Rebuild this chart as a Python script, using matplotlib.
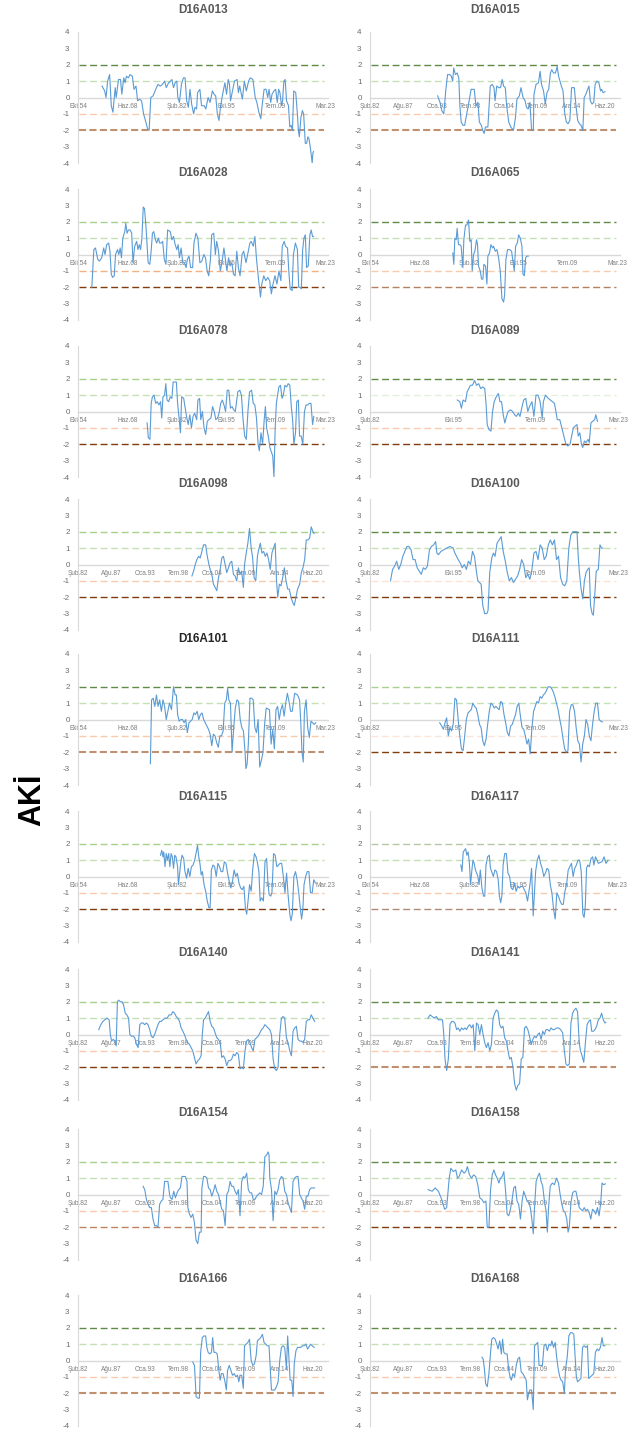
import numpy as np
import matplotlib
matplotlib.use('Agg')
import matplotlib.pyplot as plt

plt.rcParams['font.family'] = ['Liberation Sans', 'DejaVu Sans']
plt.rcParams['axes.unicode_minus'] = False

# AKİ series per station: (decimal year, value)
d16a013 = [(1961.41, 0.7), (1962.14, 0.4), (1962.51, 0.0), (1962.96, 1.0), (1963.51, 1.4), (1963.97, -0.5),
           (1964.42, -0.9), (1965.06, 0.6), (1965.33, 0.0), (1965.97, 1.1), (1966.52, 1.1), (1966.89, 0.2),
           (1967.43, 1.2), (1967.80, 0.9), (1968.16, 1.3), (1968.71, 1.2), (1969.17, 1.4), (1969.81, 1.3),
           (1970.26, 0.5), (1970.81, 0.7), (1971.26, -0.2), (1971.81, -0.1), (1972.36, -0.2), (1972.91, -1.0),
           (1973.55, -1.5), (1974.00, -1.9), (1974.46, -2.0), (1974.91, 0.0), (1975.55, 0.1), (1976.47, 0.6),
           (1976.92, 0.8), (1977.56, 0.7), (1978.11, 0.8), (1978.75, 1.0), (1979.20, 0.6), (1979.84, 0.9),
           (1980.39, 1.0), (1980.75, 1.1), (1981.21, 0.6), (1981.67, 0.9), (1982.12, 1.0), (1982.40, 0.0),
           (1982.85, -0.3), (1983.40, 0.8), (1983.95, 1.2), (1984.40, 1.2), (1984.86, -0.2), (1985.32, -0.6),
           (1985.77, 0.5), (1986.23, -0.4), (1986.78, -1.0), (1987.14, -0.6), (1987.60, -0.7), (1987.87, 0.3),
           (1988.51, 0.5), (1988.97, -0.5), (1989.70, -0.5), (1990.15, -0.7), (1990.79, 0.0), (1991.34, -0.3),
           (1991.98, 0.4), (1992.43, 0.2), (1992.89, 0.1), (1993.35, -1.0), (1993.80, -1.4), (1994.26, -0.5),
           (1994.90, 0.3), (1995.44, 0.9), (1995.90, 0.2), (1996.36, 1.1), (1996.72, 0.8), (1997.00, -0.2),
           (1997.63, 0.5), (1998.09, 1.0), (1998.82, 1.1), (1999.18, 0.3), (1999.55, 0.7), (1999.91, 0.3),
           (2000.28, -0.1), (2000.83, 1.0), (2001.37, 0.4), (2002.01, 1.0), (2002.47, 1.2), (2003.20, 1.1),
           (2003.84, 0.0), (2004.29, -0.3), (2004.84, -0.9), (2005.39, -1.3), (2005.75, -0.5), (2006.30, 0.5),
           (2006.85, 0.5), (2007.31, 0.0), (2007.67, 0.5), (2008.13, -0.3), (2008.49, 0.2), (2009.04, 0.4),
           (2009.50, 0.5), (2009.95, -0.3), (2010.32, 0.5), (2010.68, 0.3), (2011.14, -0.5), (2011.41, -0.2),
           (2011.78, 1.0), (2012.14, 1.1), (2012.51, -0.2), (2013.05, -0.5), (2013.42, -1.8), (2013.78, -1.7),
           (2014.15, -2.0), (2014.51, 0.4), (2015.06, 0.3), (2015.52, -1.0), (2015.79, -2.0), (2016.06, -2.4),
           (2016.52, -1.2), (2016.89, -0.8), (2017.25, -1.0), (2017.71, -2.8), (2018.07, -2.8), (2018.44, -2.4),
           (2018.71, -2.5), (2019.07, -3.0), (2019.35, -3.5), (2019.62, -4.0), (2019.81, -3.4), (2019.99, -3.3)]

d16a015 = [(1993.16, 0.1), (1993.55, -0.3), (1993.83, -0.8), (1994.16, -1.0), (1994.50, 0.5), (1994.78, 1.4),
           (1995.11, 1.4), (1995.39, 1.3), (1995.61, 1.0), (1995.78, 1.8), (1996.06, 1.4), (1996.34, 1.5),
           (1996.61, 1.2), (1996.78, -0.5), (1997.00, -1.5), (1997.28, -1.7), (1997.56, -1.7), (1997.90, -1.0),
           (1998.29, -0.2), (1998.62, 0.5), (1999.12, 0.5), (1999.40, -0.5), (1999.73, -0.3), (1999.96, -1.5),
           (2000.29, -1.7), (2000.51, -2.0), (2000.74, -2.2), (2000.96, -1.8), (2001.35, -1.8), (2001.74, 0.7),
           (2002.07, 0.8), (2002.35, 0.6), (2002.52, -0.2), (2002.80, 0.7), (2003.13, 0.6), (2003.41, 0.6),
           (2003.69, 1.1), (2003.91, 0.7), (2004.19, 0.6), (2004.41, -0.5), (2004.75, -1.5), (2005.08, -1.8),
           (2005.53, -2.0), (2005.86, -1.2), (2006.09, -0.1), (2006.48, 0.1), (2006.75, 0.6), (2007.09, 0.0),
           (2007.42, -0.2), (2007.65, -0.6), (2007.92, -0.7), (2008.20, -0.3), (2008.48, -2.0), (2008.76, -2.0),
           (2008.87, 0.2), (2009.20, 0.8), (2009.60, 0.9), (2009.87, 1.6), (2010.10, 0.8), (2010.43, 0.4),
           (2010.71, -0.4), (2010.99, 0.3), (2011.27, 0.5), (2011.55, 1.5), (2011.77, 1.7), (2012.05, 1.5),
           (2012.38, 1.5), (2012.66, 1.9), (2012.88, 1.3), (2013.11, 1.0), (2013.33, 0.7), (2013.61, 0.4),
           (2013.89, -1.0), (2014.16, -1.5), (2014.44, -1.6), (2014.72, -1.4), (2015.00, 0.6), (2015.45, 0.6),
           (2015.72, -0.5), (2016.00, -1.4), (2016.28, -1.6), (2016.56, -1.7), (2016.84, -2.0), (2017.06, 0.0),
           (2017.34, 0.2), (2017.62, 0.5), (2017.84, 0.7), (2018.06, -0.2), (2018.34, -0.4), (2018.62, -0.3),
           (2018.84, 0.8), (2019.12, 1.0), (2019.46, 0.9), (2019.73, 0.4), (2019.90, 0.5), (2020.12, 0.3),
           (2020.46, 0.35)]

d16a028 = [(1958.58, -2.0), (1959.13, 0.3), (1959.59, 0.4), (1960.22, -0.3), (1960.68, -0.4), (1961.32, -0.2),
           (1961.87, 0.4), (1962.23, 0.0), (1962.69, 0.6), (1963.24, 0.7), (1963.60, 0.2), (1963.97, -1.2),
           (1964.33, -1.4), (1964.79, -1.3), (1965.15, 0.0), (1965.70, 0.3), (1966.06, 0.0), (1966.43, 0.4),
           (1966.79, -0.2), (1967.16, 1.0), (1967.71, 1.4), (1967.98, 1.9), (1968.34, 1.3), (1968.71, 1.5),
           (1969.17, 1.5), (1969.62, 1.3), (1969.99, -0.5), (1970.44, 0.5), (1970.99, 0.8), (1971.36, 0.3),
           (1971.72, 0.6), (1972.09, 0.3), (1972.45, 1.0), (1972.82, 2.9), (1973.18, 2.8), (1973.64, 1.5),
           (1973.91, 0.5), (1974.18, -0.5), (1974.64, -0.6), (1975.01, 0.2), (1975.37, 1.3), (1975.74, 1.4),
           (1976.19, 0.9), (1976.56, 0.7), (1977.01, 1.0), (1977.38, 0.7), (1977.83, 0.7), (1978.20, 0.8),
           (1978.66, -0.3), (1979.11, -0.6), (1979.57, 1.5), (1980.30, 1.4), (1980.75, 0.9), (1981.21, 1.1),
           (1981.67, 0.6), (1982.12, 0.3), (1982.49, 0.6), (1982.85, -0.2), (1983.31, 0.4), (1983.77, -0.5),
           (1984.22, -0.5), (1984.68, -0.8), (1985.04, -0.3), (1985.50, -0.1), (1985.95, -0.8), (1986.50, -0.8),
           (1986.87, 0.7), (1987.42, 1.3), (1987.96, 1.0), (1988.51, -0.5), (1989.06, -0.4), (1989.60, 0.0),
           (1990.06, -0.2), (1990.52, -1.0), (1990.97, -1.3), (1991.43, -0.3), (1991.79, 1.2), (1992.34, 1.3),
           (1992.80, 0.0), (1993.16, 0.8), (1993.62, 0.3), (1994.17, -1.0), (1994.62, -0.5), (1995.17, 0.4),
           (1995.53, -0.2), (1995.99, -1.0), (1996.45, -0.2), (1996.90, -0.7), (1997.36, -0.5), (1997.82, -1.2),
           (1998.27, -1.3), (1998.73, 0.2), (1999.18, -0.8), (1999.64, -1.3), (2000.19, 0.0), (2000.64, 0.2),
           (2001.28, -0.5), (2001.74, 0.0), (2002.37, 0.7), (2002.74, 0.8), (2003.29, 0.5), (2003.75, 1.1),
           (2004.20, -0.3), (2004.75, -1.5), (2005.30, -2.6), (2005.66, -1.8), (2006.21, -1.3), (2006.76, -1.6),
           (2007.30, -1.4), (2007.85, -1.6), (2008.31, -2.4), (2008.77, -1.8), (2009.31, -1.3), (2009.86, -1.8),
           (2010.41, -1.0), (2010.95, -1.6), (2011.32, 0.5), (2011.87, 0.8), (2012.23, 0.5), (2012.78, 0.4),
           (2013.14, -1.0), (2013.51, -2.1), (2014.06, -2.2), (2014.42, 0.0), (2014.97, 0.7), (2015.52, 0.3),
           (2015.88, -2.0), (2016.25, -2.0), (2016.61, -2.1), (2016.98, 0.3), (2017.34, 1.0), (2017.71, 1.2),
           (2018.07, -0.8), (2018.53, -0.7), (2018.98, 1.2), (2019.35, 1.5), (2019.71, 1.1), (2019.99, 1.1)]

d16a065 = [(1977.69, 0.1), (1977.97, -0.6), (1978.25, 1.0), (1978.62, 0.9), (1978.89, 1.6), (1979.26, 0.6),
           (1979.63, 0.6), (1980.00, 0.5), (1980.47, -0.8), (1980.74, 0.9), (1981.21, 1.8), (1981.58, 1.8),
           (1982.04, 2.1), (1982.41, 0.8), (1982.78, 0.9), (1983.06, -1.0), (1983.43, 0.0), (1983.80, 0.2),
           (1984.26, 0.9), (1984.54, 0.6), (1984.81, -0.7), (1985.28, -1.0), (1985.65, -1.5), (1986.02, -1.5),
           (1986.29, -0.6), (1986.76, -0.7), (1987.13, -1.8), (1987.40, -0.1), (1987.87, 0.1), (1988.24, 0.6),
           (1988.70, 0.4), (1988.98, 0.5), (1989.44, 0.2), (1989.90, 0.3), (1990.37, -0.2), (1990.83, -1.0),
           (1991.29, -2.7), (1991.75, -2.9), (1992.03, -2.5), (1992.40, -0.3), (1992.86, 0.3), (1993.42, 0.3),
           (1993.97, 0.2), (1994.34, -0.4), (1994.71, -1.0), (1995.08, 0.5), (1995.55, 0.7), (1995.92, 1.2),
           (1996.38, 1.0), (1996.84, 0.5), (1997.12, -1.2), (1997.49, -1.3), (1997.86, -0.2), (1998.23, -0.1),
           (1998.60, -0.1)]

d16a078 = [(1973.89, -0.7), (1974.23, -1.6), (1974.68, -1.7), (1975.02, 0.5), (1975.36, 0.9), (1975.81, 1.0),
           (1976.26, 0.5), (1976.71, 0.6), (1977.16, 0.4), (1977.61, 0.6), (1977.95, -0.4), (1978.29, 0.9),
           (1978.74, 1.0), (1979.07, 1.7), (1979.41, 0.7), (1979.86, 0.6), (1980.31, 0.9), (1980.76, 0.8),
           (1981.10, 1.8), (1981.55, 1.8), (1982.00, 1.8), (1982.34, 0.5), (1982.79, -0.5), (1983.13, -1.3),
           (1983.47, 0.9), (1984.03, 0.8), (1984.37, 0.3), (1984.82, -0.3), (1985.27, -0.8), (1985.72, -0.2),
           (1986.17, -1.0), (1986.62, -0.3), (1987.07, -0.1), (1987.63, -0.5), (1987.97, 0.7), (1988.42, 0.8),
           (1988.76, -0.5), (1989.21, 0.0), (1989.66, -1.0), (1990.11, -1.4), (1990.56, -0.6), (1991.01, -0.5),
           (1991.57, -0.4), (1992.02, 0.3), (1992.47, 0.0), (1992.93, -0.5), (1993.38, -0.4), (1993.83, -0.1),
           (1994.28, 0.5), (1994.73, 0.7), (1995.18, 0.4), (1995.63, 0.0), (1996.08, 1.3), (1996.53, 1.3),
           (1996.98, 0.2), (1997.43, 0.3), (1997.88, 0.1), (1998.33, 0.0), (1999.01, 1.2), (1999.57, 1.3),
           (2000.02, 1.0), (2000.47, -0.5), (2000.92, -1.5), (2001.37, -1.7), (2001.82, 0.0), (2002.27, 1.2),
           (2002.84, 1.3), (2003.29, 0.5), (2003.74, 0.4), (2004.19, -0.4), (2004.64, -2.0), (2004.97, -2.4),
           (2005.43, -1.3), (2005.88, -2.0), (2006.33, -0.5), (2006.66, 0.3), (2007.00, -1.0), (2007.45, -1.5),
           (2007.90, -2.2), (2008.35, -2.5), (2008.69, -2.7), (2009.03, -4.0), (2009.37, -1.0), (2009.70, 0.5),
           (2010.04, 1.0), (2010.38, 1.5), (2010.83, 1.6), (2011.28, 0.8), (2011.62, 1.0), (2012.07, 1.6),
           (2012.52, 1.5), (2012.97, 1.7), (2013.42, 1.6), (2013.87, 0.2), (2014.21, -0.5), (2014.55, -2.0),
           (2015.00, -1.3), (2015.34, 0.6), (2015.79, 0.7), (2016.12, -1.5), (2016.57, -1.5), (2017.03, -2.0),
           (2017.48, 0.0), (2017.93, 0.4), (2018.38, 0.4), (2018.83, 0.5), (2019.28, 0.5), (2019.73, -0.8),
           (2020.07, -0.3)]

d16a089 = [(1996.54, 0.7), (1996.95, 0.6), (1997.22, 0.2), (1997.49, 0.7), (1997.89, 0.6), (1998.16, 1.2),
           (1998.44, 1.4), (1998.71, 1.6), (1999.04, 1.6), (1999.38, 1.9), (1999.72, 1.6), (2000.06, 1.7),
           (2000.40, 1.4), (2000.74, 1.5), (2001.07, 1.4), (2001.28, 0.5), (2001.48, -0.8), (2001.75, -1.1),
           (2002.09, -1.2), (2002.36, 0.0), (2002.63, 0.6), (2002.97, 0.9), (2003.31, 1.1), (2003.58, 0.6),
           (2003.85, 0.6), (2004.12, -0.2), (2004.39, -0.7), (2004.66, -0.3), (2004.93, 0.0), (2005.34, 0.1),
           (2005.67, 0.0), (2006.01, -0.2), (2006.28, -0.3), (2006.62, -0.1), (2006.89, -0.3), (2007.23, 0.3),
           (2007.50, 0.7), (2007.84, 0.8), (2008.18, 0.0), (2008.45, 0.3), (2008.86, 0.6), (2009.19, -0.3),
           (2009.53, 1.0), (2009.87, 1.0), (2010.21, 0.6), (2010.55, -0.4), (2010.75, 0.6), (2011.09, 1.0),
           (2011.56, 0.8), (2011.90, 0.7), (2012.24, 0.6), (2012.58, 0.5), (2013.05, -0.5), (2013.46, -0.5),
           (2013.80, -1.0), (2014.13, -1.5), (2014.47, -2.0), (2014.81, -2.1), (2015.15, -2.0), (2015.42, -1.5),
           (2015.69, -1.0), (2015.96, -0.9), (2016.30, -0.8), (2016.50, -1.5), (2016.77, -1.3), (2017.04, -2.0),
           (2017.25, -2.2), (2017.52, -1.8), (2017.79, -1.9), (2018.13, -1.7), (2018.33, -1.9), (2018.60, -0.7),
           (2018.87, -0.6), (2019.21, -0.5), (2019.41, -0.2), (2019.68, -0.6)]

d16a098 = [(2000.71, -0.7), (2000.98, -0.4), (2001.25, 0.0), (2001.52, 0.3), (2001.79, 0.5), (2002.06, 0.4),
           (2002.33, 0.8), (2002.60, 1.2), (2002.94, 1.2), (2003.21, 0.5), (2003.48, 0.0), (2003.68, -0.3),
           (2003.95, -0.6), (2004.22, -1.2), (2004.49, -1.4), (2004.76, -1.6), (2005.04, -0.8), (2005.31, -0.3),
           (2005.58, 0.4), (2005.85, 0.5), (2006.12, 0.0), (2006.39, -0.5), (2006.66, -0.2), (2006.93, 0.1),
           (2007.20, 0.2), (2007.47, -0.6), (2007.74, -0.7), (2008.01, -1.0), (2008.28, -0.2), (2008.55, -0.6),
           (2008.82, -0.4), (2009.09, -1.4), (2009.29, 0.0), (2009.56, 0.7), (2009.83, 1.3), (2010.10, 2.2),
           (2010.37, 1.0), (2010.58, 0.5), (2010.85, -0.8), (2011.12, -1.0), (2011.39, 0.5), (2011.59, 0.9),
           (2011.86, 1.3), (2012.13, 0.7), (2012.40, 0.8), (2012.67, 0.5), (2012.94, 0.7), (2013.21, 0.3),
           (2013.48, -0.3), (2013.75, 0.7), (2014.02, 1.0), (2014.29, 1.3), (2014.49, -0.9), (2014.70, -2.0),
           (2014.97, -1.2), (2015.24, -1.3), (2015.51, -0.8), (2015.78, -0.2), (2016.05, -1.0), (2016.32, -1.5),
           (2016.59, -1.5), (2016.86, -2.0), (2017.13, -2.3), (2017.40, -2.5), (2017.67, -2.0), (2017.94, -1.5),
           (2018.28, -1.2), (2018.55, -0.5), (2018.82, -0.2), (2019.09, 0.3), (2019.36, 1.5), (2019.63, 1.5),
           (2019.90, 1.6), (2020.17, 2.3), (2020.44, 2.0), (2020.64, 1.9)]

d16a100 = [(1985.51, -1.0), (1985.85, -0.3), (1986.19, -0.1), (1986.53, 0.2), (1986.87, -0.3), (1987.20, 0.0),
           (1987.54, 0.5), (1987.88, 0.8), (1988.22, 1.1), (1988.56, 1.1), (1988.90, 0.9), (1989.23, 0.3),
           (1989.57, 0.3), (1989.91, -0.2), (1990.25, -0.4), (1990.59, -0.6), (1990.93, -0.2), (1991.26, -0.3),
           (1991.60, -0.1), (1991.94, 0.9), (1992.28, 1.1), (1992.62, 1.2), (1992.96, 1.4), (1993.16, 0.7),
           (1993.43, 0.6), (1993.84, 0.8), (1994.31, 0.9), (1994.78, 1.0), (1995.32, 1.1), (1995.86, 1.0),
           (1996.14, 0.7), (1996.41, 0.5), (1996.68, 0.3), (1997.02, 0.1), (1997.35, -0.2), (1997.69, 0.0),
           (1998.03, -0.3), (1998.37, 0.2), (1998.71, 0.0), (1999.05, 0.8), (1999.38, 0.5), (1999.72, -0.5),
           (1999.93, -1.0), (2000.20, -1.1), (2000.47, -1.2), (2000.74, -2.5), (2001.07, -3.0), (2001.41, -3.0),
           (2001.62, -2.8), (2001.89, -0.5), (2002.23, 0.4), (2002.50, 0.7), (2002.77, 0.5), (2003.10, 1.3),
           (2003.44, 1.5), (2003.78, 1.7), (2004.12, 0.8), (2004.46, 0.2), (2004.80, -0.5), (2005.13, -1.0),
           (2005.47, -0.8), (2005.81, -1.1), (2006.15, -0.9), (2006.49, -0.7), (2006.83, -0.3), (2007.16, 0.3),
           (2007.50, 0.0), (2007.84, -0.8), (2008.18, -0.6), (2008.52, -0.9), (2008.86, -0.3), (2009.19, 0.7),
           (2009.53, 0.8), (2009.87, 0.3), (2010.21, 1.2), (2010.55, 1.0), (2010.89, 0.3), (2011.22, 0.5),
           (2011.56, 1.2), (2011.90, 1.5), (2012.24, 1.2), (2012.58, 1.5), (2012.92, 0.3), (2013.25, 0.5),
           (2013.59, -0.8), (2013.93, -1.2), (2014.27, -1.3), (2014.61, -1.0), (2014.95, 1.0), (2015.28, 1.8),
           (2015.62, 2.0), (2015.96, 2.0), (2016.30, 2.0), (2016.50, 0.5), (2016.70, -0.5), (2016.98, -1.5),
           (2017.25, -2.1), (2017.52, -1.0), (2017.79, -0.5), (2018.06, -0.3), (2018.33, -0.2), (2018.53, -2.5),
           (2018.80, -3.0), (2019.00, -3.1), (2019.21, -2.0), (2019.48, -0.4), (2019.82, -0.3), (2020.09, 1.2),
           (2020.36, 1.0), (2020.56, 1.0)]

d16a101 = [(1974.80, -2.7), (1975.13, 1.2), (1975.58, 1.3), (1976.03, 0.8), (1976.48, 1.5), (1976.93, 0.8),
           (1977.38, 1.2), (1977.84, 0.5), (1978.29, 1.2), (1978.74, 0.8), (1979.19, 0.0), (1979.64, 0.5),
           (1980.09, 1.0), (1980.65, 0.6), (1981.21, 2.0), (1981.66, 1.5), (1982.00, 1.5), (1982.34, 0.3),
           (1982.79, -0.1), (1983.24, 0.0), (1983.69, 0.0), (1984.14, -0.2), (1984.59, 0.0), (1985.04, -0.8),
           (1985.49, -0.2), (1985.94, -0.1), (1986.39, 0.0), (1986.84, 0.4), (1987.29, 0.3), (1987.75, 0.5),
           (1988.20, 0.0), (1988.65, 0.3), (1989.10, 0.4), (1989.55, 0.0), (1990.00, -0.2), (1990.45, -0.4),
           (1990.90, -0.6), (1991.35, -0.9), (1991.80, -1.6), (1992.25, -0.9), (1992.70, -1.0), (1993.15, -1.4),
           (1993.60, -1.7), (1994.05, -1.0), (1994.50, -1.0), (1994.95, -0.7), (1995.40, 1.0), (1995.85, 1.2),
           (1996.19, 1.9), (1996.53, 1.2), (1996.98, 1.0), (1997.43, -2.0), (1997.88, -0.5), (1998.33, 0.7),
           (1998.78, 1.2), (1999.23, 1.1), (1999.68, 0.0), (2000.13, -0.5), (2000.58, -0.7), (2001.03, -2.0),
           (2001.26, -3.0), (2001.60, -2.7), (2001.93, -1.5), (2002.39, 1.3), (2002.84, 1.3), (2003.29, 1.2),
           (2003.74, -0.5), (2004.19, -0.8), (2004.64, 0.0), (2005.09, -2.9), (2005.54, -2.5), (2005.99, -2.0),
           (2006.44, -0.3), (2006.89, 0.7), (2007.79, 0.6), (2008.24, -1.5), (2008.69, -0.6), (2009.14, -1.8),
           (2009.59, 0.6), (2010.04, 0.8), (2010.49, 0.0), (2010.94, 0.6), (2011.39, 0.9), (2011.84, 0.2),
           (2012.29, 1.0), (2012.75, 1.6), (2013.20, 1.1), (2013.65, 0.5), (2014.10, 0.5), (2014.77, 1.6),
           (2015.56, 1.5), (2016.12, 1.2), (2016.46, -0.2), (2016.80, -2.0), (2017.14, -2.6), (2017.47, 0.5),
           (2017.93, 1.2), (2018.38, -0.5), (2018.83, -1.1), (2019.28, -0.1), (2019.73, -0.2), (2020.18, -0.3),
           (2020.63, -0.2)]

d16a111 = [(1993.63, -0.2), (1993.97, -0.4), (1994.24, -0.6), (1994.51, -0.2), (1994.78, 0.1), (1995.05, -1.0),
           (1995.32, -0.5), (1995.59, -0.7), (1995.86, -0.3), (1996.14, 1.3), (1996.41, 1.2), (1996.68, 0.0),
           (1996.95, -1.0), (1997.22, -1.8), (1997.49, -1.9), (1997.76, -1.0), (1998.03, 0.0), (1998.30, 0.4),
           (1998.57, 0.5), (1998.84, 0.6), (1999.11, 1.0), (1999.38, 0.8), (1999.65, 0.7), (1999.92, 0.3),
           (2000.20, -0.3), (2000.47, -0.5), (2000.74, -1.3), (2001.01, -1.6), (2001.28, -1.2), (2001.55, -0.3),
           (2001.82, 0.5), (2002.09, 1.0), (2002.36, 0.9), (2002.63, 0.7), (2002.90, 0.8), (2003.17, 0.7),
           (2003.44, 0.6), (2003.71, 1.1), (2003.98, 1.0), (2004.25, 0.3), (2004.52, -0.2), (2004.80, -0.8),
           (2005.07, -1.0), (2005.34, -0.4), (2005.61, -0.3), (2005.88, 0.0), (2006.15, 0.3), (2006.42, 0.8),
           (2006.69, 1.0), (2006.96, 0.2), (2007.23, -0.5), (2007.50, -0.6), (2007.77, -1.0), (2008.04, -1.5),
           (2008.31, -1.2), (2008.58, -2.1), (2008.86, -0.5), (2009.13, 0.5), (2009.40, 0.8), (2009.67, 1.1),
           (2009.94, 1.0), (2010.21, 1.4), (2010.48, 1.3), (2010.75, 1.5), (2011.02, 1.6), (2011.29, 1.8),
           (2011.56, 2.0), (2011.83, 2.0), (2012.10, 1.9), (2012.37, 1.7), (2012.64, 1.4), (2012.91, 1.0),
           (2013.18, 0.6), (2013.46, 0.0), (2013.73, -0.5), (2014.00, -1.2), (2014.27, -1.8), (2014.54, -2.0),
           (2014.81, -1.9), (2015.08, 0.5), (2015.35, 0.9), (2015.62, 0.9), (2015.89, 0.5), (2016.16, -0.5),
           (2016.43, -1.3), (2016.70, -1.5), (2016.97, -2.6), (2017.24, -1.5), (2017.52, -1.0), (2017.79, 0.0),
           (2018.06, -0.3), (2018.33, -1.0), (2018.60, -1.3), (2018.87, -0.3), (2019.14, 0.5), (2019.41, 1.0),
           (2019.68, 1.0), (2019.95, 0.0), (2020.22, -0.1), (2020.49, -0.15)]

d16a115 = [(1977.61, 1.3), (1977.95, 1.6), (1978.29, 1.2), (1978.51, 1.5), (1978.85, 0.6), (1979.19, 1.4),
           (1979.52, 1.0), (1979.86, 1.4), (1980.20, 0.6), (1980.54, 1.4), (1980.88, 1.2), (1981.21, 0.5),
           (1981.55, 1.3), (1981.89, 1.2), (1982.34, 0.6), (1982.56, -0.5), (1982.90, 0.2), (1983.24, 0.9),
           (1983.58, 1.3), (1984.03, 1.1), (1984.37, 0.3), (1984.82, -0.1), (1985.27, 0.5), (1985.72, 0.0),
           (1986.17, 0.6), (1986.62, 0.7), (1987.07, 1.0), (1987.52, 1.5), (1987.86, 1.9), (1988.20, 1.2),
           (1988.53, 0.8), (1988.87, 0.1), (1989.21, 0.3), (1989.66, -0.5), (1990.11, -0.9), (1990.56, -1.5),
           (1991.01, -1.9), (1991.35, -1.9), (1991.69, 0.4), (1992.14, 0.7), (1992.59, 0.6), (1993.04, 0.0),
           (1993.49, 0.8), (1993.94, 0.6), (1994.39, 0.3), (1994.84, 0.3), (1995.29, 0.9), (1995.74, 0.8),
           (1996.19, 0.2), (1996.64, -0.3), (1997.09, -0.7), (1997.54, -0.3), (1997.99, 0.4), (1998.44, 0.0),
           (1998.89, 0.2), (1999.34, -0.4), (1999.79, -0.7), (2000.25, -0.8), (2000.70, -0.6), (2001.15, -2.0),
           (2001.48, -2.3), (2001.94, -1.3), (2002.27, -0.5), (2002.72, -0.9), (2003.17, 0.5), (2003.62, 1.4),
           (2004.07, 1.2), (2004.41, 0.9), (2004.86, 0.3), (2005.20, -1.5), (2005.65, -1.3), (2006.10, -1.5),
           (2006.55, 0.9), (2007.00, 1.1), (2007.34, -0.3), (2007.68, -1.1), (2008.13, -1.2), (2008.47, -1.0),
           (2008.92, 1.4), (2009.37, 1.3), (2009.82, 0.6), (2010.27, 0.7), (2010.72, 0.8), (2011.17, 0.8),
           (2011.62, 0.0), (2012.07, -1.0), (2012.52, 0.2), (2012.97, -1.2), (2013.42, -2.3), (2013.76, -2.7),
           (2014.10, -2.3), (2014.55, 0.0), (2015.00, 0.3), (2015.45, -0.2), (2015.90, -1.0), (2016.35, -2.0),
           (2016.69, -2.6), (2017.03, -2.0), (2017.36, -0.5), (2017.81, 0.0), (2018.26, 0.3), (2018.71, 0.3),
           (2019.16, -1.0), (2019.61, -1.0), (2020.07, -0.2), (2020.52, -0.4)]

d16a117 = [(1979.89, 0.7), (1980.23, 0.3), (1980.57, 1.5), (1980.90, 1.6), (1981.24, 1.7), (1981.58, 1.3),
           (1981.92, 1.5), (1982.26, 0.9), (1982.60, -0.5), (1982.93, 0.3), (1983.27, 1.0), (1983.61, 0.8),
           (1983.95, 0.4), (1984.29, 0.2), (1984.63, 0.0), (1984.96, -0.5), (1985.30, 0.4), (1985.75, -0.7),
           (1986.20, -1.2), (1986.54, -1.2), (1986.88, 0.7), (1987.33, 1.2), (1987.78, 1.3), (1988.12, 0.5),
           (1988.46, 0.3), (1988.91, 0.0), (1989.36, 0.4), (1989.81, 0.3), (1990.26, -0.2), (1990.60, -1.2),
           (1990.94, -1.6), (1991.28, -1.2), (1991.62, 0.7), (1992.07, 1.4), (1992.52, 1.4), (1992.97, 0.2),
           (1993.42, 0.0), (1993.87, -0.7), (1994.32, -0.8), (1994.77, -0.4), (1995.22, -0.9), (1995.67, -0.6),
           (1996.13, -0.7), (1996.58, -0.6), (1997.03, -0.6), (1997.48, -0.8), (1997.93, -1.0), (1998.38, -1.5),
           (1998.72, -1.0), (1999.06, -0.5), (1999.51, 0.5), (1999.96, -2.4), (2000.30, -1.0), (2000.63, 0.3),
           (2001.09, 1.0), (2001.54, 1.3), (2001.99, 0.8), (2002.44, 0.5), (2002.89, 0.0), (2003.34, 0.2),
           (2003.79, 0.5), (2004.24, 0.4), (2004.69, -0.5), (2005.14, -1.0), (2005.60, -2.0), (2006.05, -2.6),
           (2006.50, -1.0), (2006.95, -1.2), (2007.40, -1.5), (2007.85, -1.7), (2008.30, -1.7), (2008.75, -0.9),
           (2009.20, -0.5), (2009.65, 0.4), (2010.10, 0.6), (2010.56, 0.8), (2011.01, 0.0), (2011.46, 0.5),
           (2011.91, 0.7), (2012.36, 1.0), (2012.81, 1.0), (2013.26, 0.3), (2013.71, -2.3), (2014.05, -2.5),
           (2014.39, -1.8), (2014.73, 0.5), (2015.07, 0.7), (2015.52, 0.6), (2015.97, 1.1), (2016.42, 1.2),
           (2016.76, 0.7), (2017.21, 1.2), (2017.66, 1.0), (2018.00, 0.8), (2018.45, 0.85), (2019.01, 0.9),
           (2019.57, 1.2), (2020.13, 0.8), (2020.70, 1.0)]

d16a140 = [(1985.51, 0.3), (1985.85, 0.6), (1986.18, 0.8), (1986.52, 0.9), (1986.86, 1.0), (1987.20, 0.9),
           (1987.40, 0.0), (1987.60, -0.4), (1987.87, -0.3), (1988.14, -0.4), (1988.35, -0.7), (1988.55, 2.0),
           (1988.75, 2.1), (1989.02, 2.0), (1989.29, 2.0), (1989.56, 1.8), (1989.83, 1.3), (1990.10, 1.2),
           (1990.37, 1.0), (1990.58, 0.0), (1990.85, -0.1), (1991.12, -0.1), (1991.39, -0.2), (1991.66, -0.6),
           (1991.93, -0.8), (1992.20, 0.6), (1992.47, 0.7), (1992.74, 0.7), (1993.01, 0.6), (1993.28, 0.7),
           (1993.55, 0.6), (1993.82, 0.3), (1994.09, -0.1), (1994.36, -0.2), (1994.63, 0.0), (1994.90, 0.3),
           (1995.17, 0.6), (1995.44, 0.8), (1995.71, 0.8), (1995.98, 0.9), (1996.32, 1.0), (1996.66, 1.0),
           (1997.00, 1.2), (1997.33, 1.2), (1997.60, 1.4), (1997.87, 1.3), (1998.14, 1.1), (1998.41, 1.0),
           (1998.68, 0.8), (1998.95, 0.4), (1999.22, 0.2), (1999.49, 0.0), (1999.76, -0.3), (2000.03, -0.5),
           (2000.30, -0.6), (2000.57, -0.8), (2000.84, -1.0), (2001.11, -1.4), (2001.38, -1.8), (2001.66, -1.6),
           (2001.93, -1.5), (2002.20, -1.3), (2002.40, 0.0), (2002.60, 0.9), (2002.87, 1.0), (2003.14, 1.2),
           (2003.41, 1.4), (2003.68, 0.8), (2003.95, 0.5), (2004.22, 0.4), (2004.49, 0.1), (2004.76, -0.2),
           (2005.04, -0.3), (2005.31, -0.5), (2005.58, -1.4), (2005.85, -1.3), (2006.12, -1.5), (2006.39, -1.9),
           (2006.66, -1.6), (2006.93, -1.6), (2007.20, -1.5), (2007.47, -1.2), (2007.74, -1.3), (2008.01, -1.1),
           (2008.28, -1.2), (2008.55, -2.1), (2008.82, -2.0), (2009.09, -2.1), (2009.36, -1.0), (2009.63, -0.4),
           (2009.90, -0.3), (2010.17, -0.5), (2010.44, -0.8), (2010.71, -1.0), (2010.98, -0.3), (2011.25, -0.2),
           (2011.52, -0.1), (2011.79, 0.1), (2012.06, 0.3), (2012.33, 0.4), (2012.60, 0.6), (2012.87, 0.5),
           (2013.14, 0.4), (2013.41, 0.3), (2013.68, 0.0), (2013.95, -1.5), (2014.22, -2.1), (2014.49, -2.2),
           (2014.76, -2.0), (2015.03, 0.0), (2015.30, 1.0), (2015.57, 1.1), (2015.84, 1.0), (2016.12, -0.2),
           (2016.39, -0.5), (2016.66, -1.0), (2016.93, -1.3), (2017.20, 0.2), (2017.47, 0.4), (2017.74, 0.5),
           (2018.01, -0.3), (2018.28, -0.4), (2018.55, -0.4), (2018.82, -0.5), (2019.09, -0.3), (2019.36, 0.8),
           (2019.63, 0.9), (2019.90, 0.9), (2020.17, 1.2), (2020.44, 1.0), (2020.71, 0.8)]

d16a141 = [(1991.59, 1.0), (1991.93, 1.2), (1992.26, 1.1), (1992.60, 1.0), (1992.94, 1.1), (1993.28, 0.9),
           (1993.62, 0.9), (1993.95, 0.9), (1994.16, 0.0), (1994.36, -1.5), (1994.63, -2.2), (1994.90, -1.5),
           (1995.17, 0.6), (1995.44, 0.8), (1995.71, 0.8), (1995.98, 0.7), (1996.25, 0.3), (1996.52, 0.4),
           (1996.79, 0.2), (1997.06, 0.4), (1997.33, 0.3), (1997.60, 0.4), (1997.87, 0.3), (1998.14, 0.5),
           (1998.41, 0.6), (1998.68, 0.4), (1998.95, 0.6), (1999.22, -1.0), (1999.49, 0.7), (1999.76, 0.6),
           (2000.03, 0.0), (2000.30, 0.6), (2000.57, 0.0), (2000.84, -0.5), (2001.11, -0.8), (2001.38, -0.5),
           (2001.66, -1.0), (2001.93, -0.6), (2002.20, 1.0), (2002.47, 1.3), (2002.74, 1.5), (2003.01, 1.4),
           (2003.28, 0.6), (2003.55, 0.4), (2003.82, 0.5), (2004.09, -0.2), (2004.36, -0.4), (2004.63, -1.0),
           (2004.90, -1.5), (2005.17, -1.4), (2005.44, -2.0), (2005.71, -3.0), (2005.98, -3.4), (2006.25, -3.1),
           (2006.52, -3.0), (2006.79, -1.5), (2007.06, -1.4), (2007.33, 0.4), (2007.60, 0.5), (2007.87, 0.3),
           (2008.14, -0.1), (2008.41, -0.6), (2008.68, -0.3), (2008.95, -0.1), (2009.22, -0.2), (2009.49, 0.0),
           (2009.76, 0.1), (2010.03, -0.3), (2010.30, 0.2), (2010.57, 0.0), (2010.84, 0.3), (2011.11, 0.3),
           (2011.38, 0.2), (2011.66, 0.4), (2011.93, 0.3), (2012.20, 0.3), (2012.54, 0.4), (2012.87, 0.4),
           (2013.21, 0.3), (2013.55, 0.1), (2013.82, -1.0), (2014.09, -1.8), (2014.36, -1.9), (2014.63, -1.8),
           (2014.90, 0.7), (2015.17, 1.3), (2015.44, 1.5), (2015.71, 1.6), (2015.98, 1.4), (2016.25, -0.5),
           (2016.45, -1.0), (2016.72, -1.3), (2016.99, -1.7), (2017.26, -0.5), (2017.53, 0.6), (2017.80, 0.8),
           (2018.08, 0.9), (2018.28, 0.2), (2018.55, 0.2), (2018.82, 0.3), (2019.09, 0.5), (2019.36, 0.9),
           (2019.63, 1.0), (2019.90, 1.3), (2020.17, 0.9), (2020.44, 0.7), (2020.58, 0.75)]

d16a154 = [(1992.74, 0.5), (1993.01, 0.3), (1993.28, -0.3), (1993.55, -0.6), (1993.82, -0.8), (1994.09, -0.8),
           (1994.36, -1.5), (1994.63, -1.9), (1994.90, -1.9), (1995.17, -2.0), (1995.44, -0.6), (1995.71, -0.4),
           (1995.98, -0.3), (1996.25, 0.8), (1996.52, 0.8), (1996.79, 0.8), (1997.06, 0.0), (1997.20, -0.2),
           (1997.47, -0.3), (1997.74, 0.2), (1998.01, -0.2), (1998.28, 0.1), (1998.55, 0.3), (1998.82, 0.4),
           (1999.09, 1.1), (1999.36, 1.1), (1999.63, 1.1), (1999.90, 0.8), (2000.04, -0.8), (2000.30, -1.2),
           (2000.57, -1.4), (2000.84, -1.2), (2001.11, -1.7), (2001.38, -2.8), (2001.66, -3.0), (2001.93, -2.3),
           (2002.20, -2.3), (2002.33, 0.4), (2002.60, 1.1), (2002.87, 1.1), (2003.14, 1.0), (2003.41, 0.4),
           (2003.68, 0.3), (2003.95, -0.1), (2004.22, 0.2), (2004.49, 0.6), (2004.76, 0.2), (2005.04, 0.0),
           (2005.31, -0.5), (2005.58, -0.9), (2005.85, -1.0), (2006.12, -1.9), (2006.39, 0.0), (2006.66, 0.2),
           (2006.93, 0.8), (2007.20, 0.5), (2007.47, 0.5), (2007.74, 0.2), (2008.01, 0.0), (2008.28, 0.3),
           (2008.55, -1.3), (2008.82, 0.8), (2009.09, 1.1), (2009.36, 1.0), (2009.63, 1.3), (2009.90, 0.3),
           (2010.17, 0.1), (2010.44, 0.1), (2010.71, -0.3), (2010.98, -0.3), (2011.25, -0.1), (2011.52, 0.0),
           (2011.79, 0.1), (2012.06, 0.0), (2012.33, 0.5), (2012.60, 2.3), (2012.87, 2.4), (2013.14, 2.6),
           (2013.28, 2.4), (2013.41, 1.0), (2013.68, 0.3), (2013.95, -1.6), (2014.22, 0.2), (2014.49, 0.0),
           (2014.76, 0.3), (2015.03, 0.9), (2015.30, 1.1), (2015.57, 1.0), (2015.84, 0.2), (2016.12, 0.0),
           (2016.39, -0.5), (2016.66, -0.8), (2016.93, -1.1), (2017.20, 0.8), (2017.47, 1.0), (2017.74, 1.1),
           (2018.01, 1.1), (2018.28, 0.0), (2018.55, -0.2), (2018.82, -0.4), (2019.09, -0.9), (2019.36, -0.1),
           (2019.63, -0.1), (2019.90, 0.3), (2020.17, 0.4), (2020.44, 0.4), (2020.71, 0.4)]

d16a158 = [(1991.59, 0.3), (1992.26, 0.2), (1992.74, 0.4), (1993.28, 0.2), (1993.82, -0.3), (1994.29, -0.9),
           (1994.63, -0.8), (1995.04, 1.0), (1995.31, 1.6), (1995.71, 1.4), (1996.12, 1.5), (1996.39, 1.0),
           (1996.66, 1.1), (1997.06, 1.5), (1997.47, 1.3), (1997.74, 1.4), (1998.01, 1.7), (1998.35, 1.2),
           (1998.68, 1.0), (1999.02, 1.2), (1999.36, 1.1), (1999.70, 0.6), (2000.03, -0.2), (2000.37, -0.3),
           (2000.71, -0.5), (2001.04, -0.4), (2001.24, -2.0), (2001.52, -2.0), (2001.79, 0.3), (2002.06, 1.2),
           (2002.33, 1.5), (2002.60, 1.2), (2002.87, 1.0), (2003.14, 0.7), (2003.41, 1.0), (2003.68, 1.1),
           (2003.95, 1.4), (2004.22, 0.3), (2004.49, -1.2), (2004.76, -1.3), (2005.03, -0.9), (2005.30, -0.3),
           (2005.57, 0.4), (2005.84, 0.5), (2006.11, -0.4), (2006.38, -0.6), (2006.66, -1.5), (2006.93, -0.4),
           (2007.20, 0.2), (2007.47, -0.1), (2007.74, -0.4), (2008.01, -0.5), (2008.28, -0.8), (2008.55, -1.6),
           (2008.75, -2.4), (2008.96, -0.8), (2009.22, 0.8), (2009.49, 1.1), (2009.76, 1.3), (2010.03, 0.8),
           (2010.30, 0.5), (2010.57, -0.4), (2010.84, -1.0), (2011.05, -2.3), (2011.25, -0.8), (2011.52, 0.5),
           (2011.86, 0.7), (2012.20, 0.6), (2012.54, 1.0), (2012.87, 0.7), (2013.14, 0.0), (2013.41, -0.6),
           (2013.68, -1.0), (2013.95, -1.1), (2014.22, -1.5), (2014.43, -2.3), (2014.63, -2.0), (2014.90, -0.5),
           (2015.17, 0.1), (2015.44, 0.2), (2015.71, 0.2), (2015.98, -0.3), (2016.25, -0.8), (2016.52, -0.9),
           (2016.79, -1.0), (2017.06, -0.8), (2017.33, -1.0), (2017.60, -0.9), (2017.87, -1.1), (2018.14, -1.5),
           (2018.41, -0.9), (2018.68, -1.0), (2018.95, -1.2), (2019.22, -0.8), (2019.49, -1.3), (2019.76, -0.5),
           (2019.97, 0.7), (2020.24, 0.6), (2020.51, 0.65)]

d16a166 = [(2000.85, -0.1), (2001.12, -0.3), (2001.39, -2.2), (2001.66, -2.3), (2001.93, -2.3), (2002.13, 0.5),
           (2002.40, 1.4), (2002.67, 1.5), (2002.94, 1.5), (2003.14, 0.8), (2003.35, 0.5), (2003.62, 0.4),
           (2003.89, 0.5), (2004.09, 1.4), (2004.29, 0.5), (2004.56, 0.5), (2004.83, 0.4), (2005.10, -0.6),
           (2005.31, -1.2), (2005.51, -0.8), (2005.78, -0.8), (2006.05, -1.2), (2006.32, -1.8), (2006.52, -0.6),
           (2006.79, -0.3), (2007.06, -0.6), (2007.33, -0.9), (2007.60, -0.8), (2007.87, -1.0), (2008.14, -0.9),
           (2008.35, -1.3), (2008.55, -0.9), (2008.82, -0.9), (2009.09, -1.7), (2009.29, 0.9), (2009.56, 1.0),
           (2009.83, 1.1), (2010.10, 1.3), (2010.37, 0.0), (2010.64, -0.3), (2010.91, -0.2), (2011.18, 0.3),
           (2011.39, 1.2), (2011.66, 1.3), (2011.93, 1.4), (2012.20, 1.6), (2012.47, 1.1), (2012.74, 1.0),
           (2013.01, 0.9), (2013.28, 0.9), (2013.48, -0.5), (2013.68, -1.8), (2013.95, -1.8), (2014.22, -1.8),
           (2014.49, -1.6), (2014.76, -1.3), (2015.03, 0.0), (2015.30, 0.8), (2015.57, 0.9), (2015.84, 0.8),
           (2016.12, -0.5), (2016.32, 1.5), (2016.52, 0.2), (2016.72, -1.2), (2016.99, -1.2), (2017.20, -2.2),
           (2017.40, -0.2), (2017.67, 0.6), (2017.94, 0.8), (2018.21, 0.8), (2018.48, 0.8), (2018.75, 0.9),
           (2019.02, 0.9), (2019.29, 1.0), (2019.56, 0.7), (2019.76, 0.8), (2020.04, 1.0), (2020.30, 0.9),
           (2020.64, 0.8)]

d16a168 = [(2000.37, 0.2), (2000.58, 0.1), (2000.78, -0.5), (2000.98, -1.4), (2001.25, -1.6), (2001.52, -0.8),
           (2001.79, 0.5), (2001.99, 1.3), (2002.26, 1.4), (2002.54, 1.3), (2002.80, 1.0), (2003.01, 0.7),
           (2003.28, 1.2), (2003.55, 0.4), (2003.75, 1.3), (2003.95, 0.5), (2004.22, 0.4), (2004.49, 0.4),
           (2004.76, -0.6), (2004.97, -1.0), (2005.17, -1.2), (2005.44, -0.8), (2005.71, -1.0), (2005.98, -0.3),
           (2006.25, 0.1), (2006.52, 0.2), (2006.79, -0.7), (2007.06, -0.8), (2007.33, -1.0), (2007.60, -1.2),
           (2007.80, -2.4), (2008.01, -2.0), (2008.21, -1.8), (2008.48, -1.8), (2008.75, -3.0), (2008.96, 0.9),
           (2009.22, 1.0), (2009.49, 1.1), (2009.70, -0.3), (2009.97, -0.3), (2010.24, -0.3), (2010.51, 0.9),
           (2010.78, 1.0), (2011.05, 0.6), (2011.32, 1.0), (2011.59, 0.9), (2011.79, 1.2), (2012.06, 0.8),
           (2012.33, 1.1), (2012.54, 0.3), (2012.81, -0.5), (2013.08, -1.0), (2013.28, -1.2), (2013.55, -1.3),
           (2013.82, -2.0), (2014.02, -0.5), (2014.29, 0.2), (2014.56, 1.5), (2014.83, 1.7), (2015.10, 1.7),
           (2015.37, 1.6), (2015.57, 0.3), (2015.78, -1.0), (2015.98, -1.3), (2016.25, -1.2), (2016.52, -1.1),
           (2016.79, 0.8), (2017.06, 0.9), (2017.33, 0.8), (2017.60, 0.9), (2017.80, -1.1), (2018.08, -1.0),
           (2018.35, -0.9), (2018.62, -0.8), (2018.89, 0.5), (2019.16, 0.7), (2019.43, 0.6), (2019.70, 0.8),
           (2019.97, 1.4), (2020.17, 0.9), (2020.44, 0.9)]

stations = ['D16A013', 'D16A015', 'D16A028', 'D16A065', 'D16A078', 'D16A089',
            'D16A098', 'D16A100', 'D16A101', 'D16A111', 'D16A115', 'D16A117',
            'D16A140', 'D16A141', 'D16A154', 'D16A158', 'D16A166', 'D16A168']
series = [d16a013, d16a015, d16a028, d16a065, d16a078, d16a089,
          d16a098, d16a100, d16a101, d16a111, d16a115, d16a117,
          d16a140, d16a141, d16a154, d16a158, d16a166, d16a168]
axis_kind = ['long', 'short', 'long', 'long', 'long', 'mid',
             'short', 'mid', 'long', 'mid', 'long', 'long',
             'short', 'short', 'short', 'short', 'short', 'short']

# date axis labels (Excel style, fixed day steps from the first label)
long_labels = ['Eki.54', 'Haz.68', 'Şub.82', 'Eki.95', 'Tem.09', 'Mar.23']
mid_labels = ['Şub.82', 'Eki.95', 'Tem.09', 'Mar.23']
short_labels = ['Şub.82', 'Ağu.87', 'Oca.93', 'Tem.98', 'Oca.04', 'Tem.09', 'Ara.14', 'Haz.20']
levels = [2, 1, -1, -2]

# styling
DG, LG, PG = '#5e8c45', '#a9d18e', '#c5e0b4'
LO, PO, VO = '#f4b183', '#f8cbad', '#fbe5d6'
BR, DB = '#c0906f', '#843c0c'
level_colors = [(DG, PG, PO, BR), (DG, PG, PO, BR), (LG, PG, LO, DB), (DG, PG, PO, '#b5805f'),
                (LG, PG, PO, DB), (DG, '#e2f0d9', PO, DB), (LG, PG, PO, DB), (DG, PG, VO, DB),
                (DG, PG, PO, BR), (LG, PG, VO, DB), (LG, PG, PO, DB), ('#b4c7a4', PG, PO, '#b08a78'),
                (LG, PG, PO, DB), (DG, PG, PO, BR), (LG, PG, PO, '#c0825f'), (DG, PG, PO, DB),
                (DG, PG, PO, BR), (DG, PG, PO, BR)]

axis_setup = {
    'long': (1954.75, 5000 / 365.25, long_labels, 2024.0),
    'mid': (1982.125, 5000 / 365.25, mid_labels, 2023.4),
    'short': (1982.125, 2000 / 365.25, short_labels, 2022.9),
}

W_PX, H_PX = 639, 1432
fig = plt.figure(figsize=(W_PX / 100, H_PX / 100), dpi=100)

row_top = [32, 189, 346, 499, 654, 811, 969, 1129, 1295]
title_y = [10, 173, 331, 484, 639, 797, 953, 1113, 1279]
col_left = [78, 370]
ax_w, ax_h = 250, 131

for i, name in enumerate(stations):
    r, c = divmod(i, 2)
    ax = fig.add_axes([col_left[c] / W_PX, 1 - (row_top[r] + ax_h) / H_PX, ax_w / W_PX, ax_h / H_PX])
    start, step, labels, xmax = axis_setup[axis_kind[i]]
    ticks = [start + k * step for k in range(len(labels))]

    for lev, col in zip(levels, level_colors[i]):
        thick = col == BR
        ax.axhline(lev, xmin=0.005, xmax=0.985, color=col, lw=1.5 if thick else 1.0,
                   dashes=(3.4, 1.6) if thick else (5, 2.6), zorder=1)

    yr, val = np.array(series[i]).T
    ax.plot(yr, val, color='#5b9bd5', lw=0.8, zorder=3)

    ax.set_xlim(start, xmax)
    ax.set_ylim(-4, 4)
    ax.set_yticks(range(-4, 5))
    ax.set_yticklabels([str(v) for v in range(-4, 5)])
    ax.set_xticks(ticks)
    ax.set_xticklabels(labels)
    ax.tick_params(axis='y', length=0, pad=6, labelsize=5.8, labelcolor='#6b6b6b')
    ax.tick_params(axis='x', length=0, pad=3.8, labelsize=4.7, labelcolor='#7f7f7f')
    ax.spines['bottom'].set_position(('data', 0))
    ax.spines['bottom'].set_color('#d9d9d9')
    ax.spines['bottom'].set_linewidth(1.0)
    ax.spines['bottom'].set_zorder(2)
    ax.spines['left'].set_color('#d9d9d9')
    ax.spines['left'].set_linewidth(0.8)
    ax.spines['top'].set_visible(False)
    ax.spines['right'].set_visible(False)
    ax.patch.set_alpha(0)

    fig.text((col_left[c] + ax_w / 2) / W_PX, 1 - title_y[r] / H_PX, name,
             ha='center', va='center', fontsize=8.5, fontweight='bold',
             color='#262626' if name == 'D16A101' else '#595959')

fig.text(32 / W_PX, 1 - 800 / H_PX, 'AKİ', rotation=90, ha='center', va='center',
         fontsize=22, fontweight='bold', color='black')

fig.savefig('out.png', dpi=100)
